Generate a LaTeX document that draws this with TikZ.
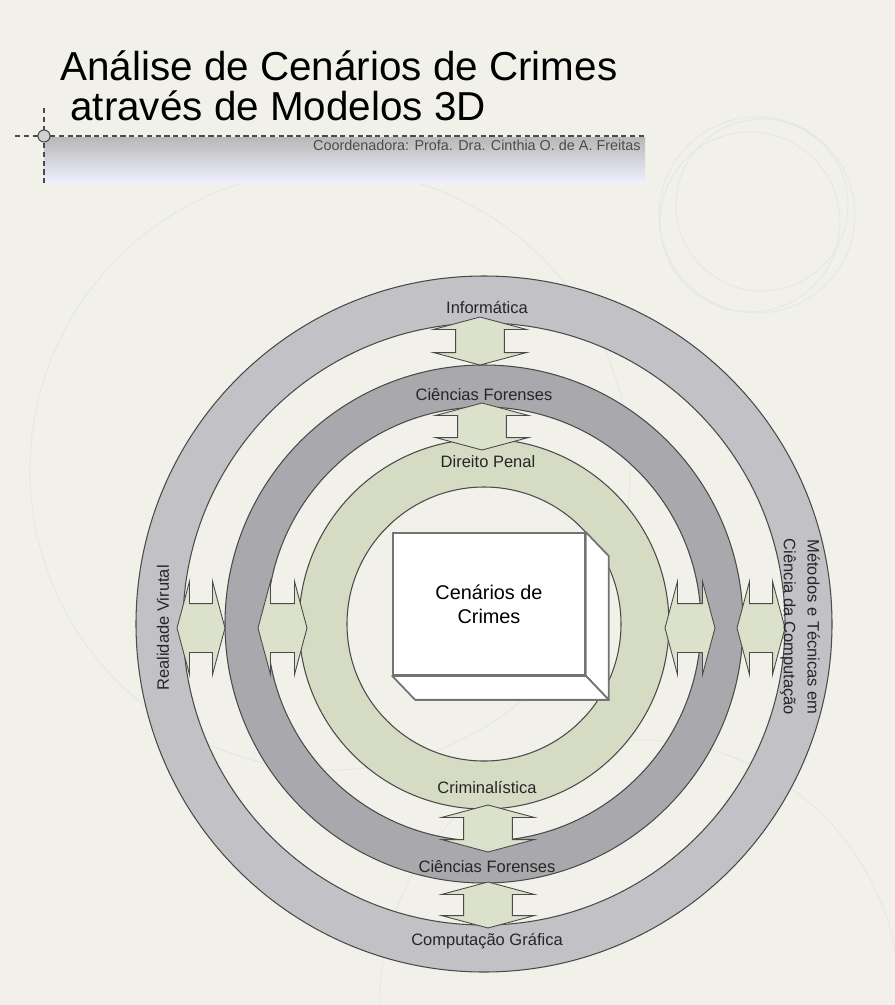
\documentclass[tikz,border=0pt]{standalone}
\usepackage{fontspec}
\setmainfont{Liberation Sans}
\usetikzlibrary{shapes.arrows,calc}

\definecolor{fundo}{HTML}{F1F1E9}
\definecolor{anelA}{HTML}{C2C2C6}
\definecolor{anelB}{HTML}{A9A9AD}
\definecolor{anelC}{HTML}{D6DBC4}
\definecolor{verdeseta}{HTML}{DCE1CB}
\definecolor{traco}{HTML}{4A4A4A}
\definecolor{deco}{HTML}{E5E8DC}

\tikzset{
  seta/.style={double arrow, draw=traco, fill=verdeseta, line width=0.5pt, inner xsep=0pt, inner ysep=0.48cm,
    double arrow head extend=0.44cm, double arrow tip angle=150},
  anel/.style={draw=traco, line width=0.6pt, even odd rule},
  rotulo/.style={font=\fontsize{9.4}{13.5}\selectfont, text=black!85, anchor=base, inner sep=0pt},
}

\begin{document}
\begin{tikzpicture}[x=0.02cm,y=-0.02cm]

		\fill [fundo] (0,0) rectangle (895,1005);
		\useasboundingbox (0,0) rectangle (895,1005);

		% circulos de fundo
		\draw [deco, line width=0.5pt] (757,215) circle (98);
		\draw [deco, line width=0.5pt] (762,205) circle (86);
		\draw [deco, line width=0.5pt] (750,222) circle (90);
		\draw [deco, line width=0.5pt] (330,470) circle (300);
		\draw [deco, line width=0.5pt] (640,1000) circle (260);

		% titulo
		\shade [top color=black!28, bottom color=blue!6!white] (44,137) rectangle (645,183);
		\draw [traco, densely dashed, line width=0.6pt] (15,136) -- (645,136);
		\draw [traco, densely dashed, line width=0.6pt] (44,108) -- (44,183);
		\draw [traco, fill=black!18, line width=0.6pt] (44,136) circle (6);

		\node [anchor=base west, inner sep=0pt, font=\fontsize{23}{27}\selectfont] (titulo1) at (60,80) {Análise de Cenários de Crimes};
		\node [anchor=base west, inner sep=0pt, font=\fontsize{23}{27}\selectfont] (titulo2) at (70,120) {através de Modelos 3D};
		\node [anchor=base east, inner sep=0pt, font=\fontsize{8.2}{10}\selectfont, text=black!70] (coord) at (641,150) {Coordenadora: Profa. Dra. Cinthia O. de A. Freitas};

		% aneis
		\coordinate (O) at (484,624);
		\draw [anel, fill=anelA] (O) circle (348) circle (301);
		\draw [anel, fill=anelB] (O) circle (259) circle (217);
		\draw [anel, fill=anelC] (O) circle (185) circle (137);

		% setas
		\node [seta, rotate=90, minimum height=0.96cm] (setaA) at (480,341) {};
		\node [seta, rotate=90, minimum height=0.94cm] (setaB) at (482,426.5) {};
		\node [seta, rotate=90, minimum height=0.94cm] (setaC) at (488,828.5) {};
		\node [seta, rotate=90, minimum height=0.92cm] (setaD) at (488,905) {};
		\node [seta, minimum height=0.96cm] (setaE) at (201,628) {};
		\node [seta, minimum height=0.98cm] (setaF) at (282.5,628) {};
		\node [seta, minimum height=1.00cm] (setaG) at (690,628) {};
		\node [seta, minimum height=0.96cm] (setaH) at (761,628) {};

		% rotulos
		\node [rotulo] (informatica) at (487,313) {Informática};
		\node [rotulo] (forensesA) at (484,400) {Ciências Forenses};
		\node [rotulo] (direito) at (488,467) {Direito Penal};
		\node [rotulo] (criminal) at (487,793) {Criminalística};
		\node [rotulo] (forensesB) at (487,872) {Ciências Forenses};
		\node [rotulo] (computacao) at (487,945) {Computação Gráfica};
		\node [rotulo, anchor=center, rotate=90] (realidade) at (163,628) {Realidade Virutal};
		\node [rotulo, anchor=center, rotate=-90, align=center] (metodos) at (800,627) {Métodos e Técnicas em\\Ciência da Computação};

		% caixa
		\node [draw=black!55, fill=white, line width=1pt, minimum width=3.84cm, minimum height=2.84cm,
			align=center, font=\fontsize{11.3}{13.6}\selectfont] (cena) at (489,604) {Cenários de\\Crimes};
		\coordinate (d) at (23,24);
		\draw [draw=black!55, fill=white, line width=1pt, line join=round]
			(cena.north east) -- ($(cena.north east)+(d)$) -- ($(cena.south east)+(d)$) -- (cena.south east) -- cycle;
		\draw [draw=black!55, fill=white, line width=1pt, line join=round]
			(cena.south west) -- (cena.south east) -- ($(cena.south east)+(d)$) -- ($(cena.south west)+(d)$) -- cycle;

\end{tikzpicture}
\end{document}
